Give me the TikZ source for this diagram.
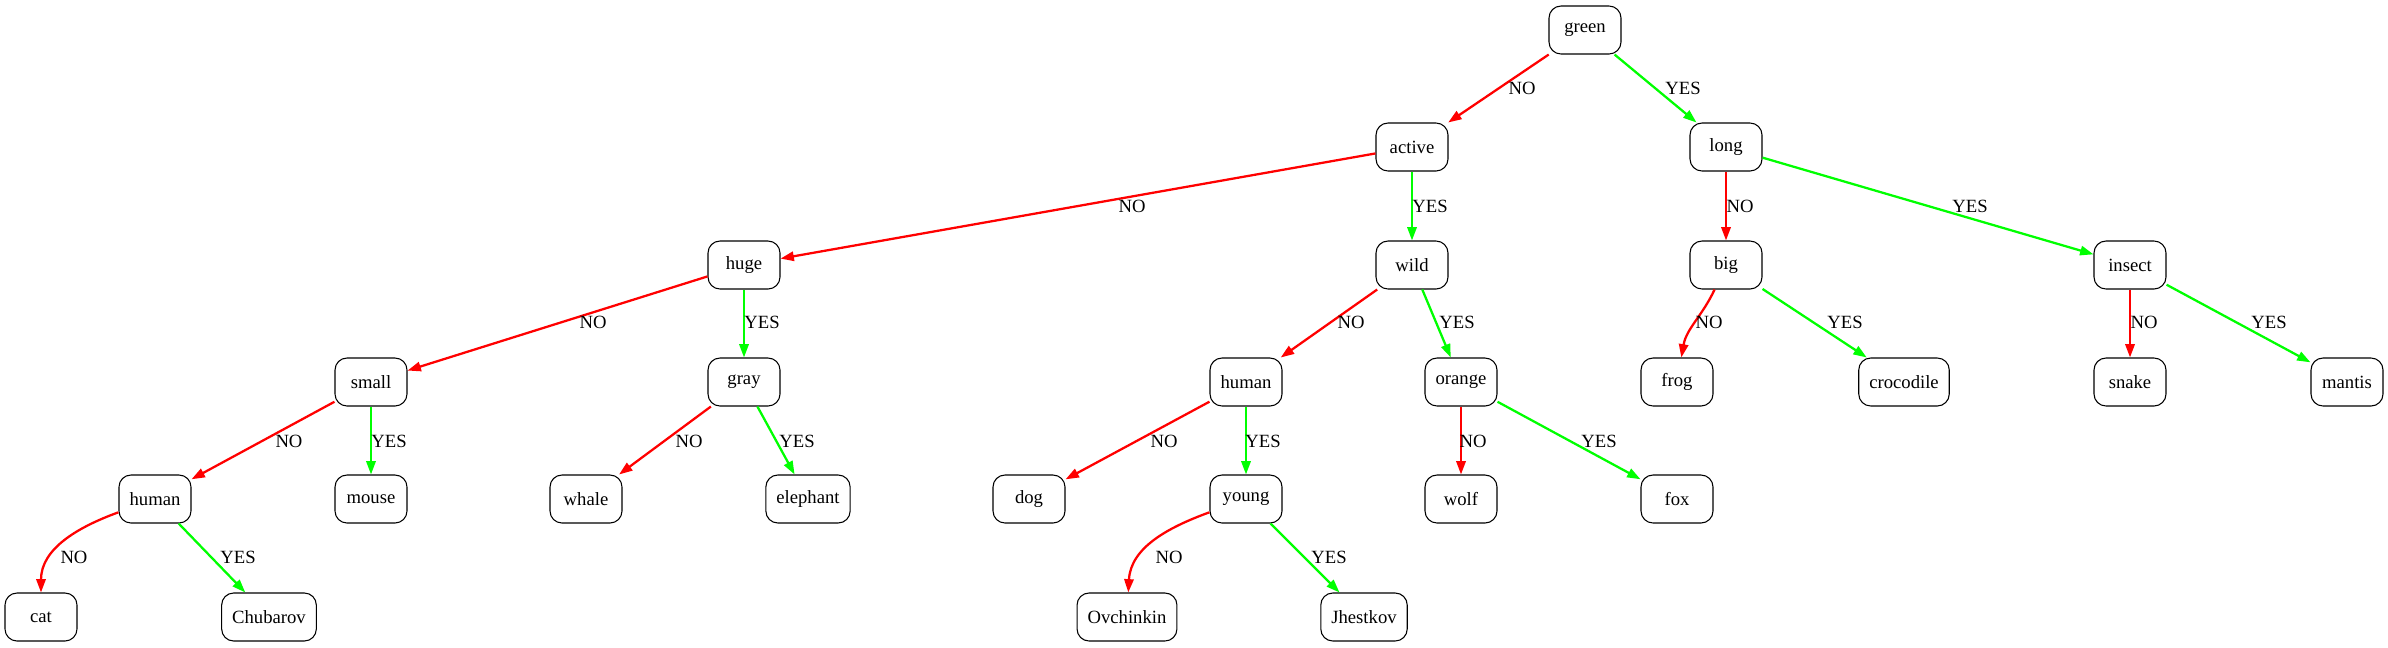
\documentclass[tikz,border=0pt]{standalone}
\usepackage{fontspec}
\setmainfont{Liberation Serif}
\newfontfamily\gvfont{Liberation Serif}
\usetikzlibrary{arrows.meta}
\definecolor{gvred}{RGB}{255,0,0}
\definecolor{gvgreen}{RGB}{0,255,0}
\begin{document}
\begin{tikzpicture}[x=0.75pt,y=0.75pt,
  box/.style={draw=black, line width=0.8pt, rounded corners=9pt, minimum width=54pt,
    minimum height=36pt, inner xsep=7.9pt, inner ysep=0pt, font=\gvfont\fontsize{14}{16}\selectfont},
  lbl/.style={inner sep=0pt, font=\gvfont\fontsize{14}{16}\selectfont},
  edge/.style={line width=1.7pt, -{Triangle[length=10pt,width=7pt]}},
  noedge/.style={edge, draw=gvred},
  yesedge/.style={edge, draw=gvgreen}
]
\useasboundingbox (0,0) rectangle (2388,-647);
% level 0
\node[box] (green) at (1585,-30) {green};
% level 1
\node[box] (active) at (1412,-147) {active};
\node[box] (long) at (1726,-147) {long};
% level 2
\node[box] (huge) at (744,-265) {huge};
\node[box] (wild) at (1412,-265) {wild};
\node[box] (big) at (1726,-265) {big};
\node[box] (insect) at (2130,-265) {insect};
% level 3
\node[box] (small) at (371,-382) {small};
\node[box] (gray) at (744,-382) {gray};
\node[box] (humanB) at (1246,-382) {human};
\node[box] (orange) at (1461,-382) {orange};
\node[box] (frog) at (1677,-382) {frog};
\node[box] (croc) at (1904,-382) {crocodile};
\node[box] (snake) at (2130,-382) {snake};
\node[box] (mantis) at (2347,-382) {mantis};
% level 4
\node[box] (humanA) at (155,-499) {human};
\node[box] (mouse) at (371,-499) {mouse};
\node[box] (whale) at (586,-499) {whale};
\node[box] (elephant) at (808,-499) {elephant};
\node[box] (dog) at (1029,-499) {dog};
\node[box] (young) at (1246,-499) {young};
\node[box] (wolf) at (1461,-499) {wolf};
\node[box] (fox) at (1677,-499) {fox};
% level 5
\node[box] (cat) at (41,-617) {cat};
\node[box] (chubarov) at (269,-617) {Chubarov};
\node[box] (ovch) at (1127,-617) {Ovchinkin};
\node[box] (jhest) at (1364,-617) {Jhestkov};

% edges
\draw[noedge] (green) -- (active);
\draw[yesedge] (green) -- (long);
\draw[noedge] (active) -- (huge);
\draw[yesedge] (active) -- (wild);
\draw[noedge] (long) -- (big);
\draw[yesedge] (long) -- (insect);
\draw[noedge] (huge) -- (small);
\draw[yesedge] (huge) -- (gray);
\draw[noedge] (wild) -- (humanB);
\draw[yesedge] (wild) -- (orange);
\draw[noedge] (big) to[out=245,in=80] (frog);
\draw[yesedge] (big) -- (croc);
\draw[noedge] (insect) -- (snake);
\draw[yesedge] (insect) -- (mantis);
\draw[noedge] (small) -- (humanA);
\draw[yesedge] (small) -- (mouse);
\draw[noedge] (gray) -- (whale);
\draw[yesedge] (gray) -- (elephant);
\draw[noedge] (humanB) -- (dog);
\draw[yesedge] (humanB) -- (young);
\draw[noedge] (orange) -- (wolf);
\draw[yesedge] (orange) -- (fox);
\draw[noedge] (humanA) to[out=200,in=90] (cat);
\draw[yesedge] (humanA) -- (chubarov);
\draw[noedge] (young) to[out=200,in=87] (ovch);
\draw[yesedge] (young) -- (jhest);

% labels
\node[lbl] (l1) at (1522,-88) {NO};
\node[lbl] (l2) at (1683,-88) {YES};
\node[lbl] (l3) at (1132,-206) {NO};
\node[lbl] (l4) at (1430,-206) {YES};
\node[lbl] (l5) at (1740,-206) {NO};
\node[lbl] (l6) at (1970,-206) {YES};
\node[lbl] (l7) at (593,-322) {NO};
\node[lbl] (l8) at (762,-322) {YES};
\node[lbl] (l9) at (1351,-322) {NO};
\node[lbl] (l10) at (1457,-322) {YES};
\node[lbl] (l11) at (1709,-322) {NO};
\node[lbl] (l12) at (1845,-322) {YES};
\node[lbl] (l13) at (2144,-322) {NO};
\node[lbl] (l14) at (2269,-322) {YES};
\node[lbl] (l15) at (289,-441) {NO};
\node[lbl] (l16) at (389,-441) {YES};
\node[lbl] (l17) at (689,-441) {NO};
\node[lbl] (l18) at (797,-441) {YES};
\node[lbl] (l19) at (1164,-441) {NO};
\node[lbl] (l20) at (1263,-441) {YES};
\node[lbl] (l21) at (1473,-441) {NO};
\node[lbl] (l22) at (1599,-441) {YES};
\node[lbl] (l23) at (74,-557) {NO};
\node[lbl] (l24) at (238,-557) {YES};
\node[lbl] (l25) at (1169,-557) {NO};
\node[lbl] (l26) at (1329,-557) {YES};
\end{tikzpicture}
\end{document}
